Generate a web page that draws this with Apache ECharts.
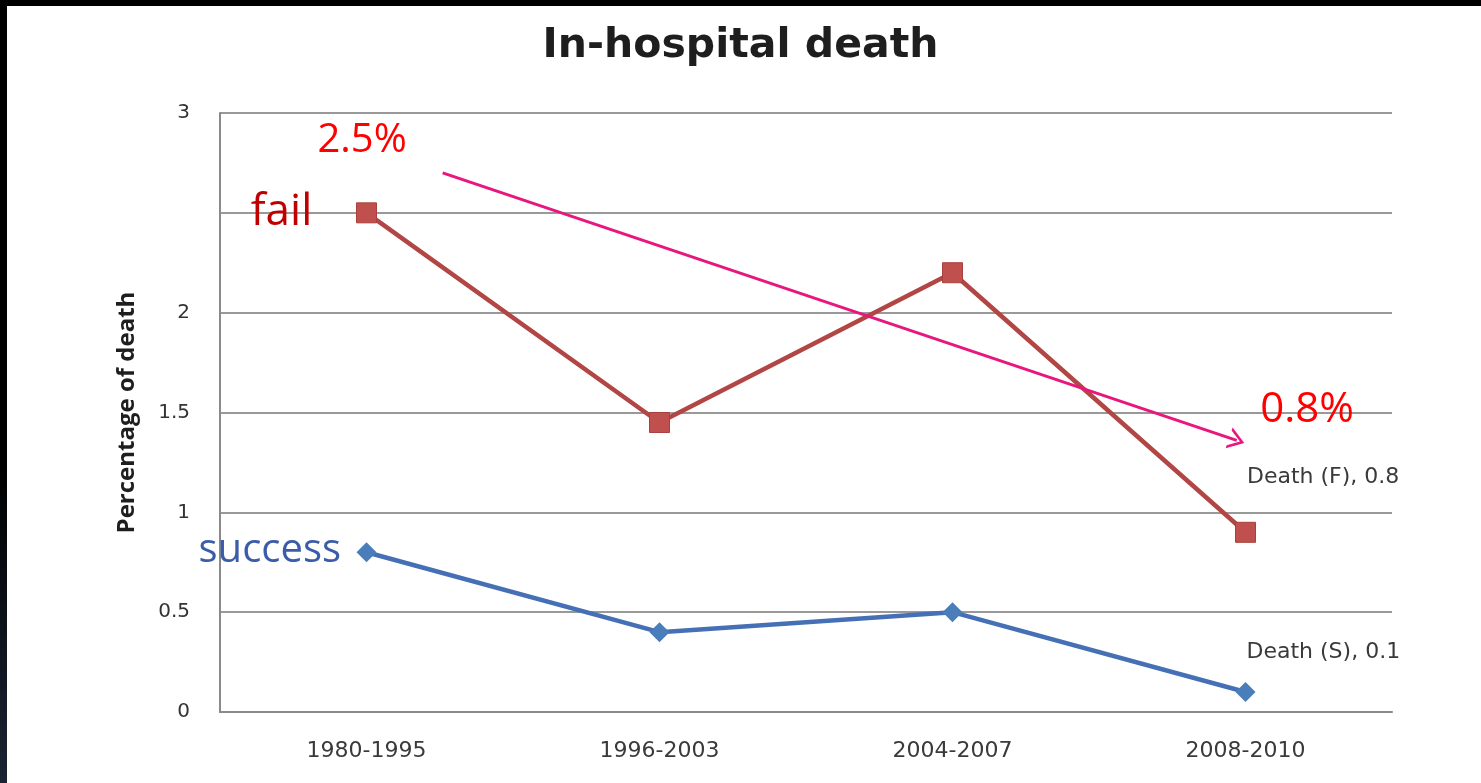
<!DOCTYPE html>
<html>
<head>
<meta charset="UTF-8">
<title>In-hospital death</title>
<style>
  html, body { margin: 0; padding: 0; background: #fff; }
  #topbar { position: absolute; left: 0; top: 0; width: 1481px; height: 6px; background: #000; z-index: 2; }
  #leftbar { position: absolute; left: 0; top: 0; width: 7px; height: 783px; background: linear-gradient(#000 0%, #000 60%, #1b2434 100%); z-index: 2; }
  #chart { width: 1481px; height: 783px; }
</style>
</head>
<body>
<div id="topbar"></div>
<div id="leftbar"></div>
<div id="chart"></div>
<script src="https://cdn.jsdelivr.net/npm/echarts@6/dist/echarts.min.js"></script>
<script>
var periods = ['1980-1995', '1996-2003', '2004-2007', '2008-2010'];
var deathFail = [2.5, 1.45, 2.2, 0.9];
var deathSuccess = [0.8, 0.4, 0.5, 0.1];
var yTickLabels = ['0', '0.5', '1', '1.5', '2', '', '3'];
var endLabels = ['Death (F), 0.8', 'Death (S), 0.1'];

// annotations, in [category position, value]
var notes = [
  { text: '2.5%', pos: [-0.015, 2.86], color: '#ff0000', size: 40 },
  { text: '0.8%', pos: [3.21, 1.51], color: '#ff0000', size: 42 },
  { text: 'fail', pos: [-0.29, 2.5], color: '#c00000', size: 44 },
  { text: 'success', pos: [-0.33, 0.81], color: '#3b5ca8', size: 40 }
];
var arrowFrom = [0.26, 2.7];
var arrowTo = [2.97, 1.36];

var chart = echarts.init(document.getElementById('chart'));

function withEndLabel(values, text, pos) {
  return values.map(function (v, i) {
    if (i !== values.length - 1) return v;
    return {
      value: v,
      label: {
        show: true, formatter: text, position: pos, align: 'left', verticalAlign: 'middle',
        fontFamily: 'DejaVu Sans', fontSize: 22, color: '#3a3a3a'
      }
    };
  });
}

var option = {
  backgroundColor: '#fff',
  animation: false,
  title: {
    text: 'In-hospital death',
    left: 'center',
    top: 21,
    textStyle: { fontFamily: 'DejaVu Sans', fontWeight: 'bold', fontSize: 41, color: '#1e1e1e' }
  },
  grid: { left: 220, right: 89, top: 113, bottom: 71 },
  xAxis: [{
    type: 'category',
    data: periods,
    boundaryGap: true,
    axisLine: { lineStyle: { color: '#8a8a8a', width: 2 } },
    axisTick: { show: false },
    axisLabel: { fontFamily: 'DejaVu Sans', fontSize: 22, color: '#3a3a3a', margin: 28 }
  }, {
    type: 'value',
    min: -0.5,
    max: 3.5,
    show: false
  }],
  yAxis: {
    type: 'value',
    min: 0,
    max: 3,
    interval: 0.5,
    name: 'Percentage of death',
    nameLocation: 'middle',
    nameGap: 81,
    nameTextStyle: { fontFamily: 'Open Sans', fontWeight: 'bold', fontSize: 24, color: '#1e1e1e' },
    axisLine: { show: true, onZero: false, lineStyle: { color: '#8a8a8a', width: 2 } },
    axisTick: { show: false },
    axisLabel: {
      fontFamily: 'DejaVu Sans', fontSize: 20, color: '#333333', margin: 30,
      formatter: function (v) { return yTickLabels[Math.round(v / 0.5)]; }
    },
    splitLine: { lineStyle: { color: '#999999', width: 2 } }
  },
  series: [{
    name: 'Death (F)',
    type: 'line',
    data: withEndLabel(deathFail, endLabels[0], [12, -45]),
    symbol: 'rect',
    symbolSize: 20,
    itemStyle: { color: '#c0504d', borderColor: '#a8403d', borderWidth: 1 },
    lineStyle: { color: '#b24644', width: 4.5 },
    z: 3
  }, {
    name: 'Death (S)',
    type: 'line',
    data: withEndLabel(deathSuccess, endLabels[1], [11, -30]),
    symbol: 'diamond',
    symbolSize: 20,
    itemStyle: { color: '#4a7ebb' },
    lineStyle: { color: '#4670b5', width: 4.5 },
    z: 3
  }, {
    type: 'scatter',
    xAxisIndex: 1,
    symbolSize: 0,
    silent: true,
    z: 5,
    itemStyle: { opacity: 1 },
    data: notes.map(function (n) {
      return {
        value: n.pos,
        label: {
          show: true, position: 'inside', formatter: n.text,
          fontFamily: 'Open Sans', fontSize: n.size, color: n.color, opacity: 1
        }
      };
    }),
    markLine: {
      silent: true,
      symbol: ['none', 'path://M0,14 L10,0 L20,14 L17,14 L10,4 L3,14 Z'],
      symbolSize: [22, 16],
      label: { show: false },
      lineStyle: { color: '#e8177d', width: 3, type: 'solid', opacity: 1 },
      data: [[{ coord: arrowFrom }, { coord: arrowTo }]]
    }
  }]
};

chart.setOption(option);
</script>
</body>
</html>
